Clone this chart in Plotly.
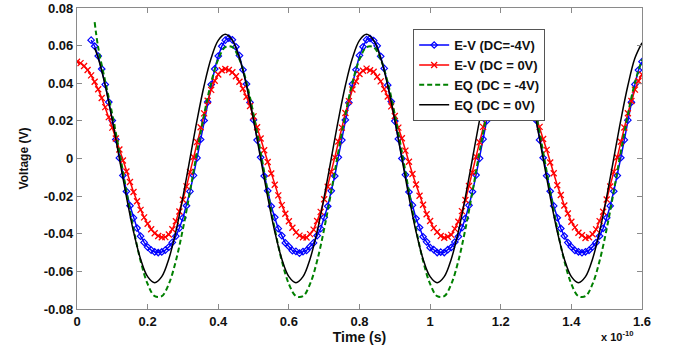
import numpy as np
import plotly.graph_objects as go

# ---- data (time in units of 1e-10 s, voltage in V) ----
t_ev_m4 = np.round(np.arange(0.04, 1.6001, 0.01), 2)
v_ev_m4 = [
    0.0629, 0.0597, 0.0545, 0.0476, 0.0393, 0.0300, 0.0202, 0.0101, 0.0003, -0.0090,
    -0.0175, -0.0251, -0.0316, -0.0370, -0.0413, -0.0446, -0.0471, -0.0487, -0.0497, -0.0500,
    -0.0497, -0.0487, -0.0471, -0.0446, -0.0413, -0.0370, -0.0316, -0.0251, -0.0175, -0.0090,
    0.0003, 0.0101, 0.0202, 0.0300, 0.0393, 0.0476, 0.0545, 0.0597, 0.0629, 0.0640,
    0.0631, 0.0594, 0.0547, 0.0472, 0.0396, 0.0298, 0.0205, 0.0098, 0.0006, -0.0093,
    -0.0172, -0.0254, -0.0313, -0.0373, -0.0410, -0.0449, -0.0468, -0.0490, -0.0494, -0.0503,
    -0.0495, -0.0489, -0.0468, -0.0449, -0.0410, -0.0373, -0.0313, -0.0254, -0.0172, -0.0093,
    0.0006, 0.0098, 0.0205, 0.0297, 0.0396, 0.0472, 0.0548, 0.0594, 0.0632, 0.0638,
    0.0627, 0.0599, 0.0543, 0.0479, 0.0390, 0.0303, 0.0199, 0.0104, 0.0000, -0.0087,
    -0.0178, -0.0248, -0.0319, -0.0367, -0.0416, -0.0443, -0.0474, -0.0484, -0.0500, -0.0498,
    -0.0500, -0.0485, -0.0473, -0.0444, -0.0415, -0.0368, -0.0318, -0.0249, -0.0177, -0.0088,
    0.0001, 0.0103, 0.0200, 0.0302, 0.0391, 0.0478, 0.0543, 0.0599, 0.0627, 0.0641,
    0.0630, 0.0596, 0.0546, 0.0474, 0.0394, 0.0299, 0.0204, 0.0099, 0.0004, -0.0092,
    -0.0174, -0.0252, -0.0315, -0.0372, -0.0412, -0.0447, -0.0470, -0.0489, -0.0496, -0.0501,
    -0.0496, -0.0488, -0.0470, -0.0447, -0.0412, -0.0371, -0.0315, -0.0252, -0.0174, -0.0091,
    0.0004, 0.0099, 0.0204, 0.0299, 0.0394, 0.0470, 0.0515,
]

t_ev_0 = np.round(np.arange(0.0, 1.6001, 0.01), 2)
v_ev_0 = [
    0.0514, 0.0507, 0.0492, 0.0471, 0.0442, 0.0408, 0.0368, 0.0322, 0.0273, 0.0220,
    0.0164, 0.0106, 0.0048, -0.0011, -0.0069, -0.0125, -0.0178, -0.0227, -0.0273, -0.0313,
    -0.0347, -0.0376, -0.0397, -0.0412, -0.0419,
    -0.0418, -0.0404, -0.0376, -0.0334, -0.0282, -0.0219, -0.0148, -0.0072, 0.0008, 0.0088,
    0.0166, 0.0240, 0.0307, 0.0365, 0.0413, 0.0447, 0.0469, 0.0476,
    0.0471, 0.0459, 0.0437, 0.0408, 0.0371, 0.0328, 0.0279, 0.0224, 0.0166, 0.0106,
    0.0044, -0.0019, -0.0080, -0.0140, -0.0196, -0.0248, -0.0294, -0.0334, -0.0368, -0.0393,
    -0.0410, -0.0419,
    -0.0420, -0.0402, -0.0378, -0.0332, -0.0284, -0.0217, -0.0150, -0.0070, 0.0006, 0.0090,
    0.0164, 0.0242, 0.0305, 0.0367, 0.0411, 0.0449, 0.0467, 0.0478,
    0.0469, 0.0461, 0.0435, 0.0410, 0.0369, 0.0330, 0.0277, 0.0226, 0.0164, 0.0108,
    0.0042, -0.0017, -0.0082, -0.0138, -0.0198, -0.0246, -0.0296, -0.0332, -0.0370, -0.0391,
    -0.0412, -0.0421,
    -0.0416, -0.0406, -0.0374, -0.0336, -0.0280, -0.0221, -0.0146, -0.0074, 0.0010, 0.0086,
    0.0168, 0.0238, 0.0309, 0.0363, 0.0415, 0.0445, 0.0471, 0.0474,
    0.0473, 0.0457, 0.0439, 0.0406, 0.0373, 0.0326, 0.0281, 0.0222, 0.0168, 0.0104,
    0.0046, -0.0021, -0.0078, -0.0142, -0.0194, -0.0250, -0.0292, -0.0336, -0.0366, -0.0395,
    -0.0408, -0.0423,
    -0.0419, -0.0403, -0.0377, -0.0333, -0.0283, -0.0218, -0.0149, -0.0071, 0.0007, 0.0089,
    0.0165, 0.0241, 0.0306, 0.0366, 0.0412, 0.0447,
]

t_eq = [0.05] + list(np.round(np.arange(0.06, 1.6001, 0.02), 2))
v_eq_m4 = [
    0.0725, 0.0590, 0.0410,
    0.0234, 0.0035, -0.0175, -0.0374, -0.0544, -0.0667, -0.0732, -0.0732, -0.0667,
    -0.0544, -0.0374, -0.0175, 0.0035, 0.0234, 0.0404, 0.0527, 0.0592, 0.0592,
    0.0527, 0.0404, 0.0234, 0.0035, -0.0175, -0.0374, -0.0544, -0.0667, -0.0732, -0.0732,
    -0.0667, -0.0544, -0.0374, -0.0175, 0.0035, 0.0234, 0.0404, 0.0527, 0.0592, 0.0592,
    0.0527, 0.0404, 0.0234, 0.0035, -0.0175, -0.0374, -0.0544, -0.0667, -0.0732, -0.0732,
    -0.0667, -0.0544, -0.0374, -0.0175, 0.0035, 0.0234, 0.0404, 0.0527, 0.0592, 0.0592,
    0.0527, 0.0404, 0.0234, 0.0035, -0.0175, -0.0374, -0.0544, -0.0667, -0.0732, -0.0732,
    -0.0667, -0.0544, -0.0374, -0.0175, 0.0035, 0.0234, 0.0404, 0.0527,
]
v_eq_0 = [
    0.0588,
    0.0534, 0.0388, 0.0204, 0.0000, -0.0204, -0.0388, -0.0534, -0.0628, -0.0660, -0.0628,
    -0.0534, -0.0388, -0.0204, 0.0000, 0.0204, 0.0388, 0.0534, 0.0628, 0.0660, 0.0628,
    0.0534, 0.0388, 0.0204, 0.0000, -0.0204, -0.0388, -0.0534, -0.0628, -0.0660, -0.0628,
    -0.0534, -0.0388, -0.0204, 0.0000, 0.0204, 0.0388, 0.0534, 0.0628, 0.0660, 0.0628,
    0.0534, 0.0388, 0.0204, 0.0000, -0.0204, -0.0388, -0.0534, -0.0628, -0.0660, -0.0628,
    -0.0534, -0.0388, -0.0204, 0.0000, 0.0204, 0.0388, 0.0534, 0.0628, 0.0660, 0.0628,
    0.0534, 0.0388, 0.0204, 0.0000, -0.0204, -0.0388, -0.0534, -0.0628, -0.0660, -0.0628,
    -0.0534, -0.0388, -0.0204, 0.0000, 0.0204, 0.0388, 0.0534, 0.0615,
]

x_ticks = [0, 0.2, 0.4, 0.6, 0.8, 1.0, 1.2, 1.4, 1.6]
x_tick_text = ["0", "0.2", "0.4", "0.6", "0.8", "1", "1.2", "1.4", "1.6"]
y_ticks = [-0.08, -0.06, -0.04, -0.02, 0, 0.02, 0.04, 0.06, 0.08]
y_tick_text = ["-0.08", "-0.06", "-0.04", "-0.02", "0", "0.02", "0.04", "0.06", "0.08"]

FONT = "Liberation Sans, Arial, sans-serif"

fig = go.Figure()
fig.add_trace(go.Scatter(
    x=t_ev_m4, y=v_ev_m4, name="E-V (DC=-4V)", mode="lines+markers",
    line=dict(color="#0000ff", width=1.5),
    marker=dict(symbol="diamond-open", size=5, color="#0000ff", line=dict(width=1.2)),
))
fig.add_trace(go.Scatter(
    x=t_ev_0, y=v_ev_0, name="E-V (DC = 0V)", mode="lines+markers",
    line=dict(color="#ff0000", width=1.5),
    marker=dict(symbol="x-thin", size=6, color="#ff0000", line=dict(width=1.3, color="#ff0000")),
))
fig.add_trace(go.Scatter(
    x=t_eq, y=v_eq_m4, name="EQ (DC = -4V)", mode="lines",
    line=dict(color="#008000", width=2, dash="5px,3px", shape="spline"),
))
fig.add_trace(go.Scatter(
    x=t_eq, y=v_eq_0, name="EQ (DC = 0V)", mode="lines",
    line=dict(color="#000000", width=1.5, shape="spline"),
))

axis_common = dict(
    showline=True, mirror="ticks", linecolor="#8a8a8a", linewidth=1.2,
    ticks="inside", ticklen=5, tickcolor="#8a8a8a", showgrid=False, zeroline=False,
    ticklabeloverflow="allow",
    tickfont=dict(family=FONT, size=13, color="#111", weight="bold"),
)

fig.update_layout(
    width=680, height=350,
    margin=dict(l=77, r=38, t=8, b=41),
    paper_bgcolor="white", plot_bgcolor="white",
    font=dict(family=FONT, color="#111"),
    xaxis=dict(range=[0, 1.6], tickvals=x_ticks, ticktext=x_tick_text,
               title=dict(text="Time (s)", standoff=0,
                          font=dict(family=FONT, size=14, color="#111", weight="bold")),
               automargin=False, **axis_common),
    yaxis=dict(range=[-0.08002, 0.08002], tickvals=y_ticks, ticktext=y_tick_text,
               title=dict(text="Voltage (V)", standoff=12,
                          font=dict(family=FONT, size=12, color="#111", weight="bold")),
               automargin=False, **axis_common),
    legend=dict(x=0.595, y=0.93, xanchor="left", yanchor="top",
                bgcolor="white", bordercolor="#555", borderwidth=1,
                font=dict(family=FONT, size=13, color="#111", weight="bold"),
                tracegroupgap=0),
    showlegend=True,
)
fig.add_annotation(x=1.0, y=0, xref="paper", yref="paper", xanchor="center", yanchor="top",
                   xshift=-25, yshift=-18, showarrow=False,
                   text="x 10<sup>-10</sup>",
                   font=dict(family=FONT, size=11, color="#111", weight="bold"))

fig.write_html("out.html", config={"displayModeBar": False},
               post_script="document.body.style.margin='0';")
